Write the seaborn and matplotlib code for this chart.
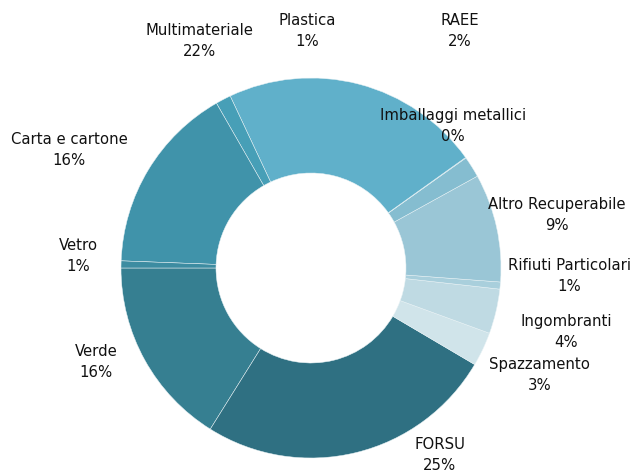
import matplotlib
matplotlib.use("Agg")
import matplotlib.pyplot as plt
import seaborn as sns

sns.set_style("white")
plt.rcParams["font.family"] = ["DejaVu Sans"]

# data, counter-clockwise from 9 o'clock
categories = ["Verde", "FORSU", "Spazzamento", "Ingombranti", "Rifiuti Particolari",
              "Altro Recuperabile", "RAEE", "Imballaggi metallici", "Multimateriale",
              "Plastica", "Carta e cartone", "Vetro"]
shares = [16.1, 25.4, 2.9, 3.8, 0.6, 9.2, 1.8, 0.05, 22.1, 1.3, 16.1, 0.6]

colors = ["#367f91", "#2f7082", "#d0e4ea", "#bfdae3", "#a9cfdc", "#9ac6d6",
          "#85bdd0", "#7ab8cc", "#60b0ca", "#479fb7", "#4093aa", "#3d8ca1"]

# label centres in pixels (x, y from top)
label_px = [(96, 362), (440, 455), (540, 375), (566, 332), (569, 276), (557, 215),
            (460, 31), (453, 126), (199, 41), (307, 31), (69, 150), (78, 256)]

W, H = 635, 472
cx, cy, r = 311, 268, 190

fig = plt.figure(figsize=(W / 100, H / 100), dpi=100)
ax = fig.add_axes([0, 0, 1, 1])
ax.pie(shares, colors=colors, startangle=180, counterclock=True, radius=1,
       wedgeprops=dict(width=0.5, edgecolor="#e8f2f5", linewidth=0.35))
ax.set_xlim(-cx / r, (W - cx) / r)
ax.set_ylim(-(H - cy) / r, cy / r)
ax.set_aspect("equal")
ax.axis("off")

for name, v, (px, py) in zip(categories, shares, label_px):
    fig.text(px / W, 1 - py / H, f"{name}\n{round(v)}%", ha="center", va="center",
             fontsize=10.7, color="#111111", linespacing=1.48)

fig.savefig("out.png", dpi=100)
